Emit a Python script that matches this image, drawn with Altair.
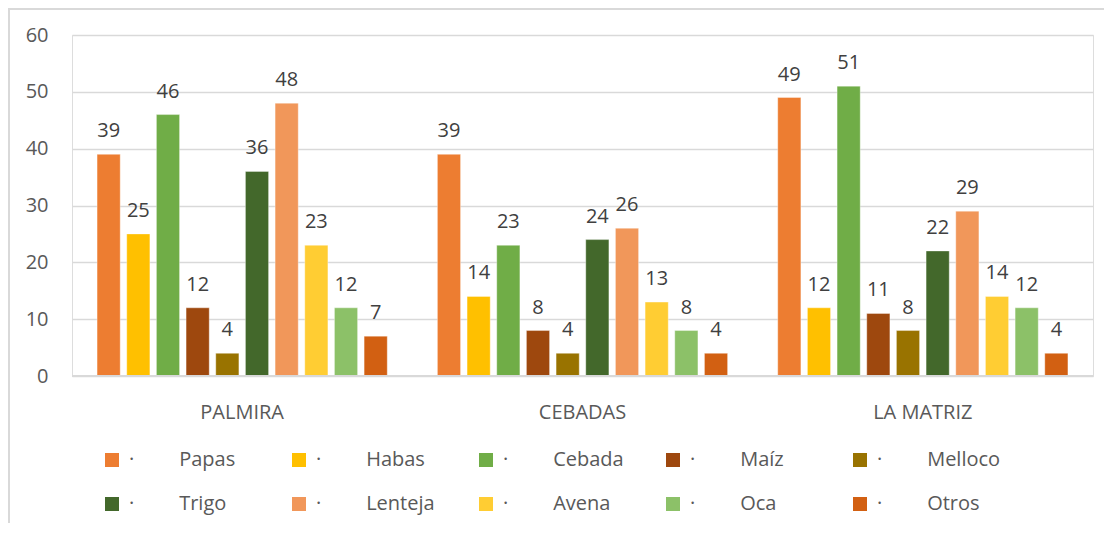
import altair as alt
import pandas as pd

regions = ["PALMIRA", "CEBADAS", "LA MATRIZ"]
crops = ["Papas", "Habas", "Cebada", "Maíz", "Melloco",
         "Trigo", "Lenteja", "Avena", "Oca", "Otros"]
colors = ["#ED7D31", "#FFC000", "#70AD47", "#9E480E", "#997300",
          "#43682B", "#F1975A", "#FFCD33", "#8CC168", "#D26012"]
palmira = [39, 25, 46, 12, 4, 36, 48, 23, 12, 7]
cebadas = [39, 14, 23, 8, 4, 24, 26, 13, 8, 4]
la_matriz = [49, 12, 51, 11, 8, 22, 29, 14, 12, 4]

rows = []
for reg, vals in zip(regions, [palmira, cebadas, la_matriz]):
    for c, v in zip(crops, vals):
        rows.append({"Region": reg, "Crop": c, "Value": v})
df = pd.DataFrame(rows)

FONT = "Open Sans"
NB = "\u00a0" * 8 + "\u2009"

x = alt.X("Region:N", sort=regions, title=None,
          scale=alt.Scale(paddingInner=0, paddingOuter=0),
          axis=alt.Axis(labelAngle=0, ticks=False, domain=False, grid=False,
                        labelPadding=26, labelFontSize=20, labelColor="#595959",
                        labelFont=FONT))
xo = alt.XOffset("Crop:N", sort=crops,
                 scale=alt.Scale(paddingInner=0.22, paddingOuter=0.845))
y = alt.Y("Value:Q", title=None,
          scale=alt.Scale(domain=[0, 60], nice=False),
          axis=alt.Axis(values=[0, 10, 20, 30, 40, 50, 60], ticks=False, domain=False,
                        labelPadding=24, labelFontSize=20, labelColor="#595959",
                        labelFont=FONT, gridColor="#D9D9D9", gridWidth=1.5))

bars = alt.Chart(df).mark_bar(stroke="white", strokeWidth=0.6, strokeOpacity=0.6).encode(
    x=x, xOffset=xo, y=y,
    color=alt.Color("Crop:N", sort=crops,
                    scale=alt.Scale(domain=crops, range=colors),
                    legend=alt.Legend(
                        title=None, orient="none", legendX=30, legendY=415,
                        direction="horizontal", columns=5, gridAlign="all",
                        columnPadding=36, rowPadding=24,
                        symbolType="square", symbolSize=196, symbolStrokeWidth=0,
                        labelOffset=7, labelFontSize=20, labelColor="#595959",
                        labelFont=FONT, labelLimit=300,
                        labelExpr="'\u00b7" + NB + "' + datum.label")),
)

labels = alt.Chart(df).mark_text(dy=-17, baseline="alphabetic", fontSize=20,
                                  font=FONT, color="#404040").encode(
    x=alt.X("Region:N", sort=regions), xOffset=alt.XOffset("Crop:N", sort=crops),
    y="Value:Q", text="Value:Q",
)

baseline = alt.Chart(df).mark_rule(color="#D9D9D9", strokeWidth=1.5).encode(
    y=alt.datum(0)
)

# chart frame (left and top border of the chart area)
frame_left = alt.Chart(df).mark_rule(color="#D9D9D9", strokeWidth=1.5).encode(
    x=alt.value(-63), y=alt.value(-27), y2=alt.value(488)
)
frame_top = alt.Chart(df).mark_rule(color="#D9D9D9", strokeWidth=1.5).encode(
    x=alt.value(-64), x2=alt.value(1032), y=alt.value(-26)
)

chart = alt.layer(bars, labels, baseline, frame_left, frame_top).properties(
    width=1021, height=341,
    autosize=alt.AutoSizeParams(type="none"),
    padding={"left": 64, "top": 27, "right": 13, "bottom": 148},
).configure_view(strokeWidth=0, stroke="transparent").configure_axisX(grid=False).configure(background="white")

chart.save("out.html", embed_options={"renderer": "svg", "actions": False})
